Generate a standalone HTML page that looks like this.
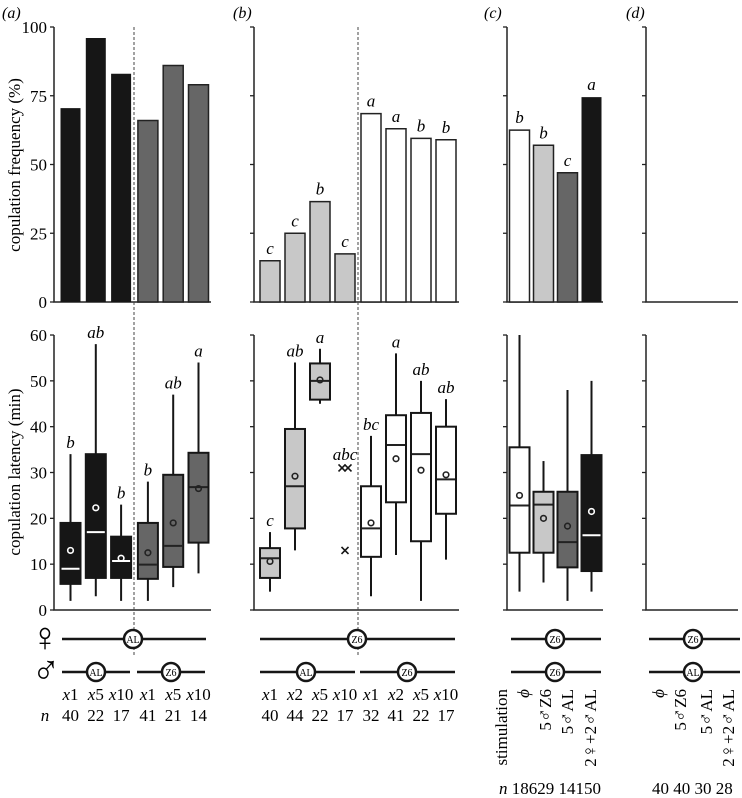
<!DOCTYPE html>
<html><head><meta charset="utf-8">
<style>
html,body{margin:0;padding:0;background:#fff}
svg{display:block;font-family:"Liberation Serif","DejaVu Serif",serif}
.it{font-style:italic}
</style></head>
<body>
<svg id="fig" width="742" height="798" viewBox="0 0 742 798" xmlns="http://www.w3.org/2000/svg">
<g id="g"></g>
</svg>
<script>
// ---- data ----
const freqA = [70.5, 96, 83, 66, 86, 79];
const freqB = [15, 25, 36.5, 17.5, 68.5, 63, 59.5, 59];
const freqC = [62.5, 57, 47, 74.5];
const lettersB = ["c","c","b","c","a","a","b","b"];
const lettersC = ["b","b","c","a"];
// boxes: [whiskerLow, q1, median, q3, whiskerHigh, mean]
const boxA = [[2,5.7,9,19,34,13],[3,7,17,34,58,22.3],[2,7,10.7,16,23,11.3],[2,6.8,9.9,19,28,12.5],[5,9.4,14,29.5,47,19],[8,14.7,26.8,34.3,54,26.5]];
const boxB = [[4,7,11.3,13.5,17,10.6],[13,17.8,27,39.5,54,29.2],[45,45.9,50,53.8,57,50.2],null,[3,11.6,17.8,27,38,19],[12,23.5,36,42.5,56,33],[2,15,34,43,50,30.5],[11,21,28.5,40,46,29.5]];
const crossB = [31,31,13];
const boxC = [[4,12.5,22.8,35.5,60,25],[6,12.5,23,25.8,32.5,20],[2,9.3,14.8,25.8,48,18.3],[4,8.5,16.3,33.8,50,21.5]];
const latLettersA = ["b","ab","b","b","ab","a"];
const latLettersB = ["c","ab","a","abc","bc","a","ab","ab"];
const nA = ["40","22","17","41","21","14"];
const nB = ["40","44","22","17","32","41","22","17"];
const xlabA = ["x1","x5","x10","x1","x5","x10"];
const xlabB = ["x1","x2","x5","x10","x1","x2","x5","x10"];
const freqTicks = [0,25,50,75,100];
const latTicks = [0,10,20,30,40,50,60];

// ---- axes ----
const yF = v => 302 - v*2.75;
const yL = v => 610 - v*4.583;
const cxA = i => 70.5 + i*25.3 + (i>=3?1.5:0);
const cxB = i => 270 + i*25 + (i>=4?1:0);
const cxC = i => 519.5 + i*24;
const BW = 20;
const colA = ["#161616","#161616","#161616","#666","#666","#666"];
const colB = ["#c8c8c8","#c8c8c8","#c8c8c8","#c8c8c8","#fff","#fff","#fff","#fff"];
const colC = ["#fff","#c8c8c8","#666","#161616"];

const NS="http://www.w3.org/2000/svg";
const G=document.getElementById('g');
function mk(tag,attrs,parent){const e=document.createElementNS(NS,tag);for(const k in attrs)e.setAttribute(k,attrs[k]);(parent||G).appendChild(e);return e;}
function txt(s,x,y,size,cls,anchor,parent){const e=mk('text',{x:x,y:y,'font-size':size,'text-anchor':anchor||'middle'},parent);if(cls)e.setAttribute('class',cls);e.textContent=s;return e;}

// panel labels
[["(a)",2],["(b)",233],["(c)",484],["(d)",626]].forEach(p=>{
  const t=txt(p[0],p[1],18,16,'it','start');
  
  
});

// axes frames
function axes(x0,x1,yTop,yBot,ticks,yf,labels){
  const a=mk('path',{d:`M${x0},${yTop}V${yBot}H${x1}`,stroke:'#222','stroke-width':1.5,fill:'none'});
  
  
  ticks.forEach(t=>{
    mk('line',{x1:x0-4,x2:x0,y1:yf(t),y2:yf(t),stroke:'#222','stroke-width':1.3});
    if(labels){const l=txt(String(t),x0-7,yf(t)+6,17,null,'end');
      
      }
  });
}
axes(54,211,yF(100),302,freqTicks,yF,true);
axes(254,459,yF(100),302,freqTicks,yF,false);
axes(507,603,yF(100),302,freqTicks,yF,false);
axes(646,738,yF(100),302,freqTicks,yF,false);
axes(54,211,yL(60),610,latTicks,yL,true);
axes(254,459,yL(60),610,latTicks,yL,false);
axes(507,603,yL(60),610,latTicks,yL,false);
axes(646,738,yL(60),610,latTicks,yL,false);

// y titles
let t1=txt("copulation frequency (%)",0,0,17,null,'middle');
t1.setAttribute('transform','translate(20,165) rotate(-90)');


let t2=txt("copulation latency (min)",0,0,17,null,'middle');
t2.setAttribute('transform','translate(20,472) rotate(-90)');



// dashed separators
[[134,27,655],[358,27,655]].forEach(d=>{
  const l=mk('line',{x1:d[0],x2:d[0],y1:d[1],y2:d[2],stroke:'#444','stroke-width':1,'stroke-dasharray':'3,2'});
  
  
});

// bars
function bars(vals,cx,cols,letters){
  vals.forEach((v,i)=>{
    const r=mk('rect',{x:cx(i)-BW/2,y:yF(v),width:BW,height:302-yF(v),fill:cols[i],stroke:'#222','stroke-width':cols[i]==='#161616'?0:1.5});
    
    
    if(letters){const l=txt(letters[i],cx(i),yF(v)-7,17,'it');
      
      }
  });
}
bars(freqA,cxA,colA,null);
bars(freqB,cxB,colB,lettersB);
bars(freqC,cxC,colC,lettersC);

// boxes
function boxes(data,cx,cols,letters){
  data.forEach((b,i)=>{
    if(!b)return;
    const x=cx(i), fill=cols[i], dark=fill==='#161616';
    const inner=dark?'#fff':'#222';
    mk('line',{x1:x,x2:x,y1:yL(b[0]),y2:yL(b[4]),stroke:'#161616','stroke-width':2});
    const r=mk('rect',{x:x-BW/2,y:yL(b[3]),width:BW,height:yL(b[1])-yL(b[3]),fill:fill,stroke:'#161616','stroke-width':2});
    
    
    mk('line',{x1:x-BW/2+1,x2:x+BW/2-1,y1:yL(b[2]),y2:yL(b[2]),stroke:inner,'stroke-width':2});
    const c=mk('circle',{cx:x,cy:yL(b[5]),r:2.8,fill:'none',stroke:inner,'stroke-width':1.6});
    
    
    if(letters){const l=txt(letters[i],x,yL(b[4])-6,17,'it');
      
      }
  });
}
boxes(boxA,cxA,colA,latLettersA);
boxes(boxB,cxB,colB,latLettersB);
boxes(boxC,cxC,colC,null);
// crosses in panel b group 4
crossB.forEach((v,k)=>{
  const x=cxB(3)+(k===0?-3:(k===1?3:0)), y=yL(v), s=3.5;
  const p=mk('path',{d:`M${x-s},${y-s}L${x+s},${y+s}M${x+s},${y-s}L${x-s},${y+s}`,stroke:'#161616','stroke-width':1.6});
  
  
});
{const l=txt("abc",cxB(3),yL(31)-8,17,'it');
 
 }

// sex/strain diagram
function node(x,y,lab){
  const c=mk('circle',{cx:x,cy:y,r:9,fill:'#fff',stroke:'#161616','stroke-width':2.5});
  
  
  txt(lab,x,y+4,10);
}
function hline(x1,x2,y){mk('line',{x1:x1,x2:x2,y1:y,y2:y,stroke:'#161616','stroke-width':2.5});}
const sf=txt("♀",0,0,26,null,'middle'); sf.setAttribute('transform','translate(45,651) scale(1.45,1.6)'); sf.setAttribute('font-weight','bold');
 
const sm=txt("♂",0,0,26,null,'middle'); sm.setAttribute('transform','translate(46,684) scale(1.45,1.6)'); sm.setAttribute('font-weight','bold');
 
hline(62,206,639); node(133,639,"AL");
hline(62,130,672); hline(137,205,672); node(96,672,"AL"); node(171,672,"Z6");
hline(260,455,639); node(357,639,"Z6");
hline(260,355,672); hline(360,455,672); node(306,672,"AL"); node(407,672,"Z6");
hline(511,601,639); node(555,639,"Z6"); hline(511,601,672); node(555,672,"Z6");
hline(649,740,639); node(693,639,"Z6"); hline(649,740,672); node(693,672,"AL");

// x labels and n
xlabA.forEach((s,i)=>{const l=txt(s,cxA(i),700,17,null);
  l.innerHTML='<tspan font-style="italic">x</tspan>'+s.slice(1);});
nA.forEach((s,i)=>{const l=txt(s,cxA(i),721,17);});
xlabB.forEach((s,i)=>{const l=txt(s,cxB(i),700,17,null);
  l.innerHTML='<tspan font-style="italic">x</tspan>'+s.slice(1);});
nB.forEach((s,i)=>{const l=txt(s,cxB(i),721,17);});
{const l=txt("n",45,721,17,'it');}

// rotated stimulation labels
function rot(html,x,y,italic){
  const l=mk('text',{x:0,y:0,'font-size':17,'text-anchor':'end'});
  if(italic) l.setAttribute('class','it');
  l.innerHTML=html;
  l.setAttribute('transform',`translate(${x},${y}) rotate(-90)`);
  
  
}
const M='<tspan font-size="19">♂</tspan>', F='<tspan font-size="19">♀</tspan>';
rot("stimulation",507,689);
rot("ϕ",529,689,true);
rot("5"+M+"Z6",551,689);
rot("5"+M+"AL",573,689);
rot("2"+F+"+2"+M+"AL",596,689);
rot("ϕ",664,689,true);
rot("5"+M+"Z6",686,689);
rot("5"+M+"AL",712,689);
rot("2"+F+"+2"+M+"AL",734,689);
{const l=mk('text',{x:499,y:794,'font-size':17,'text-anchor':'start'});
 l.innerHTML='<tspan font-style="italic">n</tspan> 18629 14150';
 }
{const l=txt("40 40 30 28",652,794,17,null,'start');
 }
</script>
</body></html>
